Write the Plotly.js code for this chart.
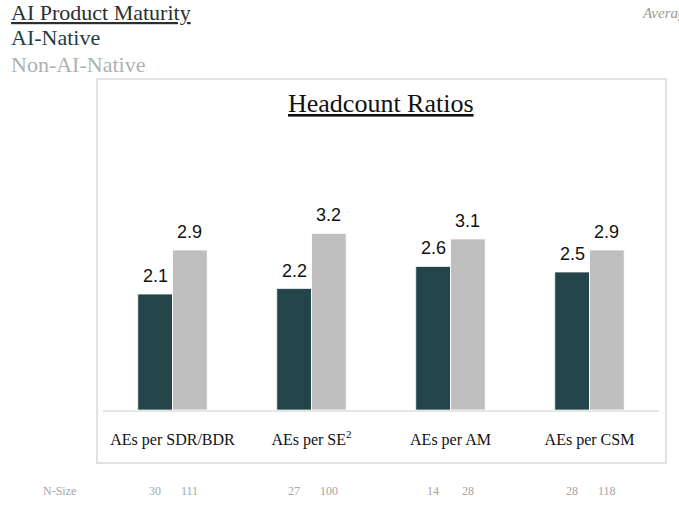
<!DOCTYPE html>
<html>
<head>
<meta charset="utf-8">
<script src="https://cdn.plot.ly/plotly-3.0.1.min.js"></script>
<style>html,body{margin:0;padding:0;background:#fff;}#chart{width:679px;height:511px;}</style>
</head>
<body>
<div id="chart"></div>
<script>
// ---- data ----
const categories = ["AEs per SDR/BDR", "AEs per SE<sup>2</sup>", "AEs per AM", "AEs per CSM"];
const aiNative = [2.1, 2.2, 2.6, 2.5];
const nonAiNative = [2.9, 3.2, 3.1, 2.9];
const nAiNative = [30, 27, 14, 28];
const nNonAiNative = [111, 100, 28, 118];
const seriesNames = ["AI-Native", "Non-AI-Native"];

// ---- layout geometry (pixels) ----
const W = 679, H = 511;
const L = 103, R = 659, T = 134, B = 410;
const px = x => (x - L) / (R - L);
const py = y => (B - y) / (B - T);

const darkColor = "#234449";
const lightColor = "#bfbfbf";
const serif = "Liberation Serif, Times New Roman, serif";
const sans = "Liberation Sans, Arial, sans-serif";

const idx = categories.map((c, i) => i);

const traces = [
  {
    type: "bar", name: seriesNames[0], x: idx, y: aiNative,
    marker: {color: darkColor, line: {color: "rgba(255,255,255,0.7)", width: 1}},
    hoverinfo: "none"
  },
  {
    type: "bar", name: seriesNames[1], x: idx, y: nonAiNative,
    marker: {color: lightColor, line: {color: "rgba(255,255,255,0.9)", width: 1}},
    hoverinfo: "none"
  }
];

const annotations = [];
const off = 0.125;
// value labels
aiNative.forEach((v, i) => annotations.push({
  x: i - off, y: v, xref: "x", yref: "y", text: v.toFixed(1), showarrow: false,
  xanchor: "center", yanchor: "bottom", yshift: 6,
  font: {family: sans, size: 18, color: "#111111"}
}));
nonAiNative.forEach((v, i) => annotations.push({
  x: i + off, y: v, xref: "x", yref: "y", text: v.toFixed(1), showarrow: false,
  xanchor: "center", yanchor: "bottom", yshift: 6,
  font: {family: sans, size: 18, color: "#111111"}
}));
// N-size row
nAiNative.forEach((v, i) => annotations.push({
  x: i - off, y: py(491), xref: "x", yref: "paper", text: String(v), showarrow: false,
  xanchor: "center", yanchor: "middle",
  font: {family: serif, size: 12, color: "#a6a6a6"}
}));
nNonAiNative.forEach((v, i) => annotations.push({
  x: i + off, y: py(491), xref: "x", yref: "paper", text: String(v), showarrow: false,
  xanchor: "center", yanchor: "middle",
  font: {family: serif, size: 12, color: "#a6a6a6"}
}));
annotations.push({
  x: px(59), y: py(491), xref: "paper", yref: "paper", text: "N-Size", showarrow: false,
  xanchor: "center", yanchor: "middle",
  font: {family: serif, size: 12, color: "#a6a6a6"}
});
// panel title
annotations.push({
  x: px(381), y: py(104), xref: "paper", yref: "paper", text: "<u>Headcount Ratios</u>", showarrow: false,
  xanchor: "center", yanchor: "middle",
  font: {family: serif, size: 26, color: "#111111"}
});
// legend-like header
annotations.push({
  x: px(9), y: py(12), xref: "paper", yref: "paper", text: "<u>AI Product Maturity</u>", showarrow: false,
  xanchor: "left", yanchor: "middle",
  font: {family: serif, size: 22, color: "#2a2f30"}
});
annotations.push({
  x: px(9), y: py(37), xref: "paper", yref: "paper", text: seriesNames[0], showarrow: false,
  xanchor: "left", yanchor: "middle",
  font: {family: serif, size: 22, color: "#1e3d44"}
});
annotations.push({
  x: px(9), y: py(64), xref: "paper", yref: "paper", text: seriesNames[1], showarrow: false,
  xanchor: "left", yanchor: "middle",
  font: {family: serif, size: 22, color: "#b0b0b0"}
});
// top-right clipped subtitle
annotations.push({
  x: px(640), y: py(13), xref: "paper", yref: "paper", text: "<i>Average ratios</i>", showarrow: false,
  xanchor: "left", yanchor: "middle",
  font: {family: serif, size: 15, color: "#9a9a9a"}
});

const layout = {
  width: W, height: H,
  margin: {l: L, r: W - R, t: T, b: H - B, pad: 0},
  paper_bgcolor: "#ffffff", plot_bgcolor: "#ffffff",
  showlegend: false,
  barmode: "group", bargap: 0.5, bargroupgap: 0,
  font: {family: serif},
  xaxis: {
    type: "linear", range: [-0.5, 3.5],
    tickvals: idx, ticktext: categories,
    showgrid: false, zeroline: false,
    showline: true, linecolor: "#e6e6e6", linewidth: 2,
    ticks: "", ticklabelstandoff: 14,
    tickfont: {family: serif, size: 16, color: "#111111"},
    fixedrange: true
  },
  yaxis: {
    range: [0, 5], visible: false, showgrid: false, zeroline: false, fixedrange: true
  },
  shapes: [
    {type: "rect", xref: "paper", yref: "paper",
     x0: px(97), x1: px(666), y0: py(463), y1: py(79),
     line: {color: "#e2e2e2", width: 2}, fillcolor: "rgba(0,0,0,0)", layer: "below"}
  ],
  annotations: annotations
};

Plotly.newPlot("chart", traces, layout, {displayModeBar: false, staticPlot: true});
</script>
</body>
</html>
